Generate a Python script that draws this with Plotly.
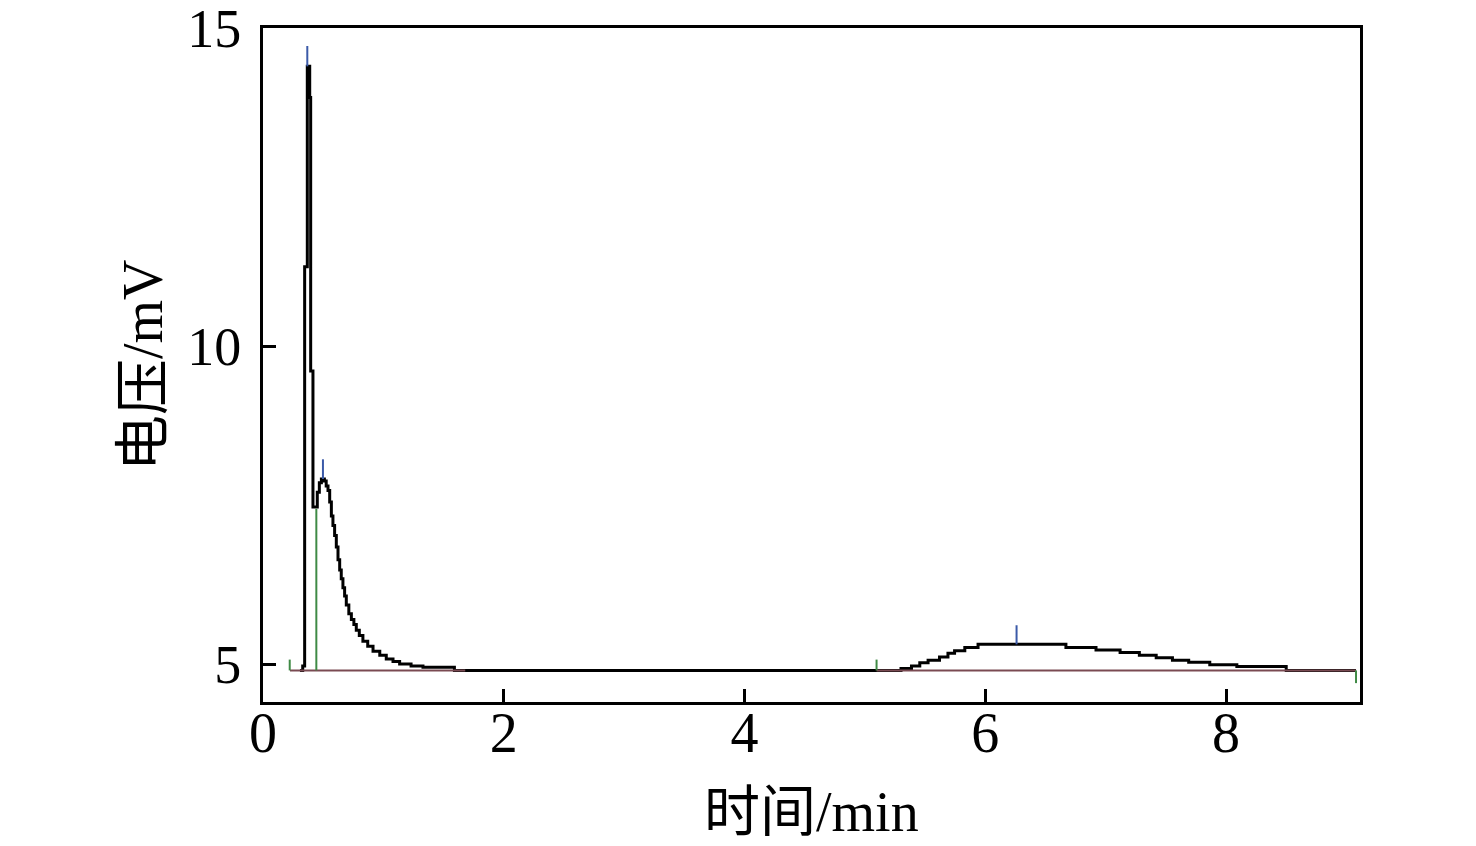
import plotly.graph_objects as go

# chromatogram signal (min, mV), drawn as a step trace
t_sig = [0.307, 0.330, 0.346, 0.368, 0.388, 0.396, 0.415, 0.451, 0.468, 0.485,
         0.510, 0.525, 0.540, 0.554, 0.568, 0.581, 0.595, 0.609, 0.623, 0.637,
         0.650, 0.664, 0.678, 0.692, 0.713, 0.734, 0.755, 0.775, 0.800, 0.830,
         0.870, 0.914, 0.970, 1.024, 1.080, 1.135, 1.230, 1.329, 1.590,
         5.300, 5.387, 5.456, 5.525, 5.620, 5.690, 5.745, 5.830, 5.940,
         6.670, 6.920, 7.120, 7.280, 7.420, 7.555, 7.690, 7.865, 8.090, 8.500, 9.080]
v_sig = [4.90, 4.97, 11.25, 14.40, 13.91, 9.61, 7.47, 7.70, 7.85, 7.91,
         7.88, 7.80, 7.73, 7.55, 7.33, 7.18, 7.02, 6.84, 6.64, 6.48,
         6.34, 6.20, 6.07, 5.93, 5.79, 5.70, 5.62, 5.53, 5.45, 5.36,
         5.28, 5.20, 5.14, 5.08, 5.04, 5.00, 4.97, 4.95, 4.90,
         4.93, 4.97, 5.02, 5.06, 5.11, 5.17, 5.21, 5.26, 5.31,
         5.26, 5.22, 5.18, 5.14, 5.10, 5.06, 5.03, 4.99, 4.96, 4.90, 4.90]

# integration baselines
base_t = [0.224, 1.68, None, 5.097, 9.08]
base_v = [4.90, 4.90, None, 4.90, 4.90]

# peak start/end markers (green) and apex markers (blue): time, low, high
green_t = [0.222, 0.443, 5.097, 9.08]
green_lo = [4.90, 4.90, 4.90, 4.70]
green_hi = [5.07, 7.44, 5.07, 4.90]

blue_t = [0.368, 0.498, 6.26]
blue_lo = [14.40, 7.91, 5.31]
blue_hi = [14.72, 8.22, 5.61]


def segments(ts, lo, hi):
    xs, ys = [], []
    for t, a, b in zip(ts, lo, hi):
        xs += [t, t, None]
        ys += [a, b, None]
    return xs, ys


fig = go.Figure()

fig.add_trace(go.Scatter(x=t_sig, y=v_sig, mode='lines', line_shape='hv',
                         line=dict(color='black', width=3), showlegend=False))
fig.add_trace(go.Scatter(x=base_t, y=base_v, mode='lines',
                         line=dict(color='#7a4a52', width=2), showlegend=False))

gx, gy = segments(green_t, green_lo, green_hi)
fig.add_trace(go.Scatter(x=gx, y=gy, mode='lines',
                         line=dict(color='#3f8a45', width=2), showlegend=False))

bx, by = segments(blue_t, blue_lo, blue_hi)
fig.add_trace(go.Scatter(x=bx, y=by, mode='lines',
                         line=dict(color='#3b5aa8', width=2), showlegend=False))

font_main = "Liberation Serif, Noto Sans CJK SC, serif"

# page body adds ~8px, so the figure is sized to fit the window
fig.update_layout(
    width=1468, height=838,
    margin=dict(l=255, r=116, t=20, b=144),
    plot_bgcolor='white', paper_bgcolor='white',
    font=dict(family=font_main, size=54, color='black'),
)
fig.update_xaxes(
    range=[0, 9.113], tickvals=[0, 2, 4, 6, 8],
    ticks='inside', ticklen=13, tickwidth=3, tickcolor='black',
    showline=True, linewidth=3, linecolor='black', mirror=True,
    showgrid=False, zeroline=False, automargin=False,
    tickfont=dict(size=56), ticklabelstandoff=-20, ticklabeloverflow='allow',
)
fig.update_yaxes(
    range=[4.403, 15.003], tickvals=[5, 10, 15],
    ticks='inside', ticklen=13, tickwidth=3, tickcolor='black',
    showline=True, linewidth=3, linecolor='black', mirror=True,
    showgrid=False, zeroline=False, automargin=False,
    tickfont=dict(size=54), ticklabelstandoff=8, ticklabeloverflow='allow',
)

# axis titles placed as annotations so their distance from the frame is exact
fig.add_annotation(text='时间/min', x=0.5, y=0, xref='paper', yref='paper',
                   xanchor='center', yanchor='middle', yshift=-110,
                   showarrow=False, font=dict(size=56))
fig.add_annotation(text='电压/mV', x=0, y=0.5, xref='paper', yref='paper',
                   xanchor='center', yanchor='middle', xshift=-120, textangle=-90,
                   showarrow=False, font=dict(size=56))

fig.write_html("out.html")
